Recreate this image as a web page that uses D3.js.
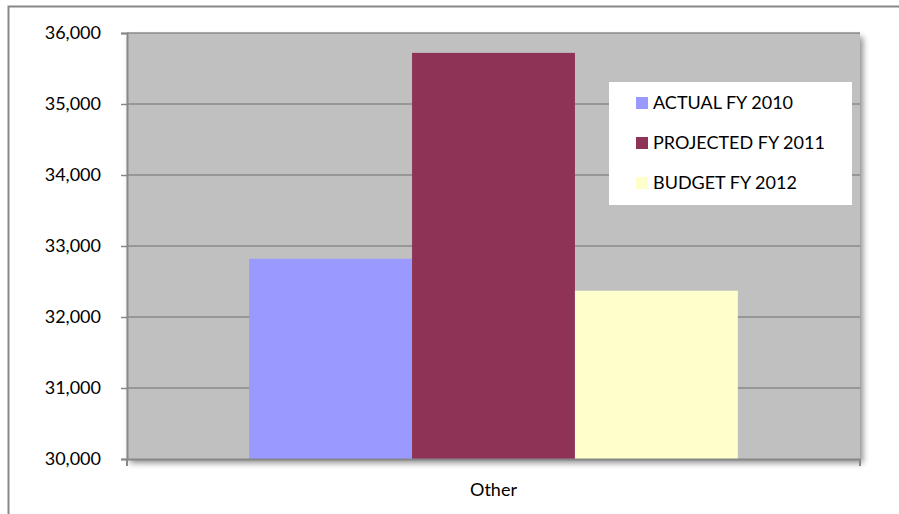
<!DOCTYPE html>
<html>
<head>
<meta charset="utf-8">
<script src="https://cdn.jsdelivr.net/npm/d3@7"></script>
<style>
  html, body { margin: 0; padding: 0; background: #fff; }
  svg { display: block; font-family: Lato, "Open Sans", "Liberation Sans", sans-serif; }
</style>
</head>
<body>
<svg id="chart" width="899" height="514"></svg>
<script>
// Chart data
const categories = ["Other"];
const seriesNames = ["ACTUAL FY 2010", "PROJECTED FY 2011", "BUDGET FY 2012"];
const seriesValues = [32820, 35720, 32370];
const seriesColors = ["#9999ff", "#8e3356", "#ffffcc"];
const yTicks = [30000, 31000, 32000, 33000, 34000, 35000, 36000];

const svg = d3.select("#chart");
const W = 899, H = 514;
const plot = { left: 127, top: 33, right: 860, bottom: 459 };
const FONT = 18;

// Outer chart frame
svg.append("rect")
  .attr("x", 8.5).attr("y", 6.5)
  .attr("width", W + 10).attr("height", H + 10)
  .attr("fill", "#fff").attr("stroke", "#888").attr("stroke-width", 2);

const defs = svg.append("defs");
const shadow = defs.append("filter").attr("id", "plotShadow")
  .attr("x", "-5%").attr("y", "-5%").attr("width", "115%").attr("height", "120%");
shadow.append("feGaussianBlur").attr("in", "SourceAlpha").attr("stdDeviation", 3).attr("result", "b");
shadow.append("feOffset").attr("in", "b").attr("dx", 3).attr("dy", 4).attr("result", "o");
shadow.append("feComponentTransfer").attr("in", "o").attr("result", "s")
  .append("feFuncA").attr("type", "linear").attr("slope", 0.45);
const merge = shadow.append("feMerge");
merge.append("feMergeNode").attr("in", "s");
merge.append("feMergeNode").attr("in", "SourceGraphic");

const y = d3.scaleLinear().domain([30000, 36000]).range([plot.bottom, plot.top]);
const x0 = d3.scaleBand().domain(categories).range([plot.left, plot.right]).padding(0);
// gap width of 150% of a bar: 1.5 bars of outer space shared between both sides
const gapFrac = 0.75 / 4.5;
const x1 = d3.scaleBand().domain(seriesNames)
  .range([x0.bandwidth() * gapFrac, x0.bandwidth() * (1 - gapFrac)]);

// Plot background
svg.append("rect")
  .attr("x", plot.left).attr("y", plot.top)
  .attr("width", plot.right - plot.left).attr("height", plot.bottom - plot.top)
  .attr("fill", "#c0c0c0")
  .attr("filter", "url(#plotShadow)");

// Horizontal gridlines
svg.append("g").selectAll("line")
  .data(yTicks.slice(1))
  .join("line")
  .attr("x1", plot.left).attr("x2", plot.right)
  .attr("y1", d => y(d)).attr("y2", d => y(d))
  .attr("stroke", "#8a8a8a").attr("stroke-width", 1.6);

// Bars
const catG = svg.append("g").selectAll("g")
  .data(categories)
  .join("g")
  .attr("transform", d => `translate(${x0(d)},0)`);

catG.selectAll("rect")
  .data(() => seriesNames.map((s, i) => ({ s, v: seriesValues[i], c: seriesColors[i] })))
  .join("rect")
  .attr("x", d => x1(d.s))
  .attr("y", d => y(d.v))
  .attr("width", x1.bandwidth())
  .attr("height", d => y(30000) - y(d.v))
  .attr("fill", d => d.c);

// Y axis
const yAxis = d3.axisLeft(y).tickValues(yTicks).tickSize(6).tickPadding(20)
  .tickFormat(d3.format(","));
const yg = svg.append("g").attr("transform", `translate(${plot.left},0)`).call(yAxis);
yg.select(".domain").attr("stroke", "#888").attr("stroke-width", 2);
yg.selectAll(".tick line").attr("stroke", "#888").attr("stroke-width", 1.5);
yg.selectAll(".tick text").attr("font-size", FONT).attr("fill", "#000")
  .attr("font-family", "Lato, 'Open Sans', sans-serif");

// X axis
const xAxis = d3.axisBottom(x0).tickSize(0).tickPadding(24);
const xg = svg.append("g").attr("transform", `translate(0,${plot.bottom})`).call(xAxis);
xg.select(".domain").attr("stroke", "#888").attr("stroke-width", 2);
xg.selectAll(".tick text").attr("font-size", FONT).attr("fill", "#000")
  .attr("font-family", "Lato, 'Open Sans', sans-serif");
// Tick marks at the ends of the category axis
[plot.left, plot.right].forEach(px => {
  svg.append("line").attr("x1", px).attr("x2", px)
    .attr("y1", plot.bottom).attr("y2", plot.bottom + 7)
    .attr("stroke", "#888").attr("stroke-width", 2);
});

// Legend
const legend = svg.append("g").attr("transform", "translate(609,82)");
legend.append("rect").attr("width", 243).attr("height", 123).attr("fill", "#fff");
const items = legend.selectAll("g.item")
  .data(seriesNames.map((s, i) => ({ s, c: seriesColors[i] })))
  .join("g").attr("class", "item")
  .attr("transform", (d, i) => `translate(27,${21 + i * 40})`);
items.append("rect").attr("x", 0).attr("y", -6).attr("width", 12).attr("height", 12).attr("fill", d => d.c);
items.append("text").attr("x", 17).attr("y", 0).attr("dy", "0.35em")
  .attr("font-size", FONT).attr("fill", "#000").text(d => d.s);
</script>
</body>
</html>
